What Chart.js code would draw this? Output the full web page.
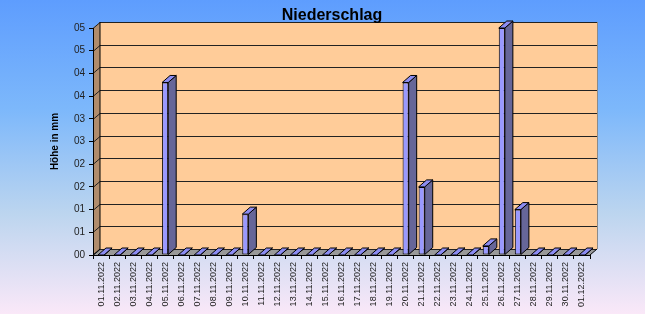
<!DOCTYPE html>
<html>
<head>
<meta charset="utf-8">
<script src="https://cdn.jsdelivr.net/npm/chart.js@4"></script>
<style>
  html, body { margin: 0; padding: 0; }
  body {
    width: 645px; height: 314px; overflow: hidden;
    background: linear-gradient(to bottom, #5e9dfe 0%, #7db8fb 35%, #bcd5ef 68%, #fae8f8 100%);
  }
</style>
</head>
<body>
<canvas id="chart" width="645" height="314"></canvas>
<script>
const chartTitle = 'Niederschlag';
const axisTitle = 'Höhe in mm';

const dates = [
  '01.11.2022', '02.11.2022', '03.11.2022', '04.11.2022', '05.11.2022', '06.11.2022',
  '07.11.2022', '08.11.2022', '09.11.2022', '10.11.2022', '11.11.2022', '12.11.2022',
  '13.11.2022', '14.11.2022', '15.11.2022', '16.11.2022', '17.11.2022', '18.11.2022',
  '19.11.2022', '20.11.2022', '21.11.2022', '22.11.2022', '23.11.2022', '24.11.2022',
  '25.11.2022', '26.11.2022', '27.11.2022', '28.11.2022', '29.11.2022', '30.11.2022',
  '01.12.2022'
];

const rain = [
  0, 0, 0, 0, 3.8, 0, 0, 0, 0, 0.9, 0, 0, 0, 0, 0, 0, 0, 0, 0,
  3.8, 1.5, 0, 0, 0, 0.2, 5.0, 1.0, 0, 0, 0, 0
];

// the original axis is formatted "00", so 0.5 steps get rounded
const yTickLabels = ['00', '01', '01', '02', '02', '03', '03', '04', '04', '05', '05'];

const font = "'Liberation Sans', Arial, sans-serif";

// draws the back wall, side wall and floor, then the side/top faces of the bars
const box3d = {
  id: 'box3d',
  beforeDraw(chart) {
    const { ctx, chartArea: a, scales: { y } } = chart;
    const dx = 7, dy = -6;
    ctx.save();
    ctx.lineWidth = 1;

    ctx.fillStyle = '#ffcc99';
    ctx.fillRect(a.left + dx, a.top + dy, a.right - a.left, a.bottom - a.top);

    ctx.fillStyle = '#b08c6c';
    ctx.beginPath();
    ctx.moveTo(a.left, a.top);
    ctx.lineTo(a.left + dx, a.top + dy);
    ctx.lineTo(a.left + dx, a.bottom + dy);
    ctx.lineTo(a.left, a.bottom);
    ctx.closePath();
    ctx.fill();

    ctx.fillStyle = '#999999';
    ctx.beginPath();
    ctx.moveTo(a.left, a.bottom);
    ctx.lineTo(a.left + dx, a.bottom + dy);
    ctx.lineTo(a.right + dx, a.bottom + dy);
    ctx.lineTo(a.right, a.bottom);
    ctx.closePath();
    ctx.fill();

    ctx.strokeStyle = '#222';
    y.ticks.forEach(t => {
      const py = Math.round(y.getPixelForValue(t.value)) + 0.5;
      ctx.beginPath();
      ctx.moveTo(a.left, py);
      ctx.lineTo(a.left + dx, py + dy);
      ctx.lineTo(a.right + dx, py + dy);
      ctx.stroke();
    });

    ctx.strokeStyle = '#000';
    ctx.beginPath();
    ctx.moveTo(a.left, a.bottom);
    ctx.lineTo(a.left + dx, a.bottom + dy);
    ctx.lineTo(a.left + dx, a.top + dy);
    ctx.moveTo(a.right, a.bottom);
    ctx.lineTo(a.right + dx, a.bottom + dy);
    ctx.stroke();

    ctx.strokeStyle = '#8a8a8a';
    ctx.beginPath();
    ctx.moveTo(a.right + dx + 0.5, a.top + dy);
    ctx.lineTo(a.right + dx + 0.5, a.bottom + dy);
    ctx.stroke();
    ctx.restore();
  },
  afterDatasetsDraw(chart) {
    const { ctx } = chart;
    const bx = 8, by = -7;
    ctx.save();
    ctx.lineWidth = 1;
    ctx.strokeStyle = '#000';
    chart.getDatasetMeta(0).data.forEach(bar => {
      const { x, y, base, width } = bar.getProps(['x', 'y', 'base', 'width'], true);
      const l = x - width / 2, r = x + width / 2;

      ctx.fillStyle = '#666699';
      ctx.beginPath();
      ctx.moveTo(r, y);
      ctx.lineTo(r + bx, y + by);
      ctx.lineTo(r + bx, base + by);
      ctx.lineTo(r, base);
      ctx.closePath();
      ctx.fill();
      ctx.stroke();

      ctx.fillStyle = '#8c8cf2';
      ctx.beginPath();
      ctx.moveTo(l, y);
      ctx.lineTo(l + bx, y + by);
      ctx.lineTo(r + bx, y + by);
      ctx.lineTo(r, y);
      ctx.closePath();
      ctx.fill();
      ctx.stroke();
    });
    ctx.restore();
  }
};

new Chart(document.getElementById('chart'), {
  type: 'bar',
  data: {
    labels: dates,
    datasets: [{
      label: axisTitle,
      data: rain,
      backgroundColor: '#9999ff',
      borderColor: '#000',
      borderWidth: 1,
      borderSkipped: false,
      categoryPercentage: 1,
      barPercentage: 0.38
    }]
  },
  options: {
    responsive: false,
    animation: false,
    devicePixelRatio: 1,
    layout: { padding: { left: 74, right: 55, top: 0, bottom: 0 } },
    plugins: {
      legend: { display: false },
      tooltip: { enabled: false },
      title: {
        display: true,
        text: chartTitle,
        color: '#000',
        font: { family: font, size: 16, weight: 'bold' },
        padding: { top: 6, bottom: 2.8 }
      }
    },
    scales: {
      x: {
        afterFit(scale) { scale.height = 59; },
        grid: { drawOnChartArea: false, offset: true, tickLength: 4, color: '#000' },
        border: { color: '#000' },
        ticks: {
          autoSkip: false, minRotation: 90, maxRotation: 90,
          color: '#222', padding: 3,
          font: { family: font, size: 9 }
        }
      },
      y: {
        min: 0, max: 5,
        afterFit(scale) { scale.width = 19; },
        grid: { drawOnChartArea: false, tickLength: 4, color: '#000' },
        border: { color: '#000' },
        ticks: {
          stepSize: 0.5, color: '#222', padding: 4,
          font: { family: font, size: 10 },
          callback: (v, i) => yTickLabels[i]
        },
        title: {
          display: true,
          text: axisTitle,
          color: '#000',
          font: { family: font, size: 10, weight: 'bold' },
          padding: { top: -25, bottom: 0 }
        }
      }
    }
  },
  plugins: [box3d]
});
</script>
</body>
</html>
